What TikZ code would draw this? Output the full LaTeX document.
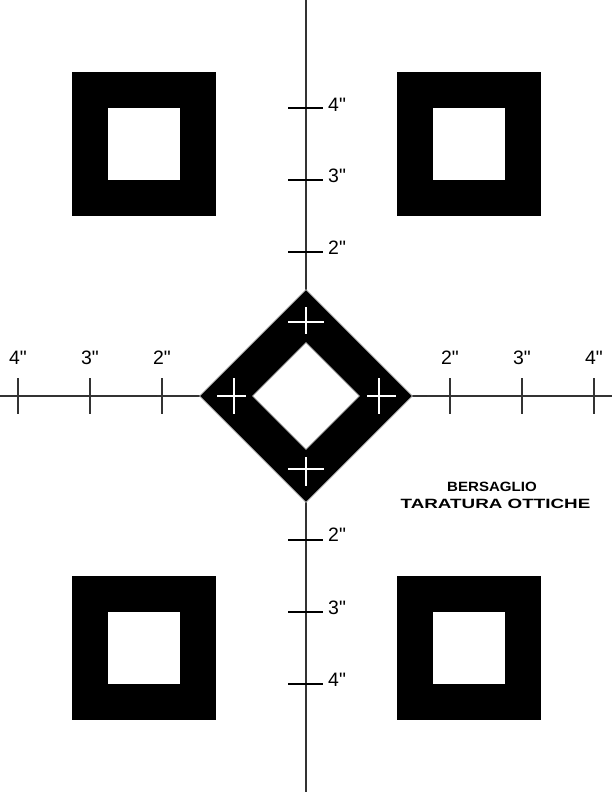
\documentclass[tikz,border=0pt]{standalone}
\usepackage{fontspec}
\setmainfont{Liberation Sans}
\newfontfamily\numfont{Liberation Sans}
\usetikzlibrary{shapes.geometric}
\definecolor{axisgray}{HTML}{333333}

\begin{document}
\begin{tikzpicture}[x=1bp,y=-1bp,
    square/.style={rectangle,fill=black,minimum size=144bp,inner sep=0pt},
    hole/.style={rectangle,fill=white,minimum size=72bp,inner sep=0pt},
    axis/.style={draw=axisgray,line width=1.3bp},
    hmark/.style={draw=axisgray,line width=2.6bp},
    vmark/.style={draw=black,line width=1.8bp},
    lbl/.style={inner sep=0pt,font=\numfont\fontsize{19.5}{22}\selectfont},
    title/.style={inner sep=0pt,font=\numfont\fontsize{13.5}{15}\selectfont\bfseries},
    cross/.style={draw=white,line width=2bp}]
      \fill[white] (0,0) rectangle (612,792);
      \useasboundingbox (0,0) rectangle (612,792);
      % axes
      \coordinate (top) at (306,0);
      \coordinate (bottom) at (306,792);
      \coordinate (left) at (0,396);
      \coordinate (right) at (612,396);
      \draw[axis] (top) -- (bottom);
      \draw[axis] (left) -- (right);
      % marks on the horizontal axis
      \coordinate (l4a) at (18,378);  \coordinate (l4b) at (18,414);
      \coordinate (l3a) at (90,378);  \coordinate (l3b) at (90,414);
      \coordinate (l2a) at (162,378); \coordinate (l2b) at (162,414);
      \coordinate (r2a) at (450,378); \coordinate (r2b) at (450,414);
      \coordinate (r3a) at (522,378); \coordinate (r3b) at (522,414);
      \coordinate (r4a) at (594,378); \coordinate (r4b) at (594,414);
      \draw[hmark] (l4a) -- (l4b);
      \draw[hmark] (l3a) -- (l3b);
      \draw[hmark] (l2a) -- (l2b);
      \draw[hmark] (r2a) -- (r2b);
      \draw[hmark] (r3a) -- (r3b);
      \draw[hmark] (r4a) -- (r4b);
      \node[lbl] (l4) at (18,358) {4"};
      \node[lbl] (l3) at (90,358) {3"};
      \node[lbl] (l2) at (162,358) {2"};
      \node[lbl] (r2) at (450,358) {2"};
      \node[lbl] (r3) at (522,358) {3"};
      \node[lbl] (r4) at (594,358) {4"};
      % marks on the vertical axis
      \coordinate (u4a) at (288,108); \coordinate (u4b) at (323,108);
      \coordinate (u3a) at (288,180); \coordinate (u3b) at (323,180);
      \coordinate (u2a) at (288,252); \coordinate (u2b) at (323,252);
      \coordinate (d2a) at (288,540); \coordinate (d2b) at (323,540);
      \coordinate (d3a) at (288,612); \coordinate (d3b) at (323,612);
      \coordinate (d4a) at (288,684); \coordinate (d4b) at (323,684);
      \draw[vmark] (u4a) -- (u4b);
      \draw[vmark] (u3a) -- (u3b);
      \draw[vmark] (u2a) -- (u2b);
      \draw[vmark] (d2a) -- (d2b);
      \draw[vmark] (d3a) -- (d3b);
      \draw[vmark] (d4a) -- (d4b);
      \node[lbl,anchor=west] (u4) at (328,105) {4"};
      \node[lbl,anchor=west] (u3) at (328,176) {3"};
      \node[lbl,anchor=west] (u2) at (328,248) {2"};
      \node[lbl,anchor=west] (d2) at (328,535) {2"};
      \node[lbl,anchor=west] (d3) at (328,608) {3"};
      \node[lbl,anchor=west] (d4) at (328,680) {4"};
      % corner squares
      \node[square] (tl) at (144,144) {};
      \node[hole] (tlh) at (tl) {};
      \node[square] (tr) at (469,144) {};
      \node[hole] (trh) at (tr) {};
      \node[square] (bl) at (144,648) {};
      \node[hole] (blh) at (bl) {};
      \node[square] (br) at (469,648) {};
      \node[hole] (brh) at (br) {};
      % central diamond
      \node[diamond,aspect=1,fill=black,draw=gray!60,line width=0.6bp,inner sep=0pt,minimum size=213bp] (target) at (306,396) {};
      \node[diamond,aspect=1,fill=white,draw=gray!70,line width=0.6bp,inner sep=0pt,minimum size=107bp] (centre) at (target) {};
      % white crosses
      \coordinate (n1) at (288,322); \coordinate (n2) at (324,322);
      \coordinate (n3) at (306,307); \coordinate (n4) at (306,334);
      \coordinate (s1) at (288,469); \coordinate (s2) at (324,469);
      \coordinate (s3) at (306,457); \coordinate (s4) at (306,486);
      \coordinate (w1) at (217,396); \coordinate (w2) at (246,396);
      \coordinate (w3) at (234,378); \coordinate (w4) at (234,414);
      \coordinate (e1) at (367,396); \coordinate (e2) at (396,396);
      \coordinate (e3) at (379,378); \coordinate (e4) at (379,414);
      \draw[cross] (n1) -- (n2);
      \draw[cross] (n3) -- (n4);
      \draw[cross] (s1) -- (s2);
      \draw[cross] (s3) -- (s4);
      \draw[cross] (w1) -- (w2);
      \draw[cross] (w3) -- (w4);
      \draw[cross] (e1) -- (e2);
      \draw[cross] (e3) -- (e4);
      % title
      \node[title] (title1) at (492,487) {\scalebox{1.12}[1]{BERSAGLIO}};
      \node[title] (title2) at (495.5,504) {\scalebox{1.4}[1]{TARATURA OTTICHE}};
\end{tikzpicture}
\end{document}
